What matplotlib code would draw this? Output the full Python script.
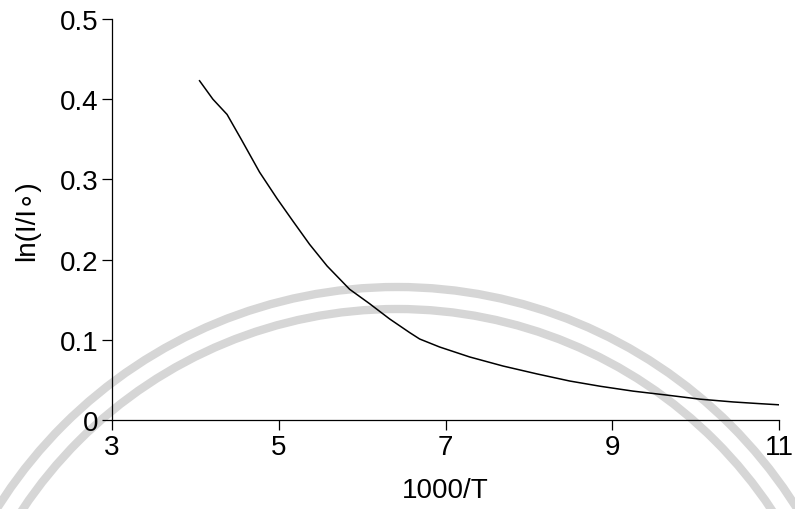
import matplotlib
matplotlib.use("Agg")
import matplotlib.pyplot as plt
from matplotlib.patches import Arc

# Measured curve: ln(I/I0) against 1000/T
inv_temp = [4.05, 4.21, 4.38, 4.55, 4.77, 4.98, 5.17, 5.37, 5.58, 5.85,
            6.09, 6.33, 6.57, 6.69, 6.93, 7.29, 7.69, 8.10, 8.49, 8.86,
            9.25, 9.66, 10.05, 10.45, 10.75, 11.04]
ln_ratio = [0.423, 0.400, 0.381, 0.350, 0.309, 0.276, 0.248, 0.219, 0.192,
            0.163, 0.145, 0.126, 0.109, 0.101, 0.091, 0.0786, 0.0673, 0.0574,
            0.0486, 0.042, 0.036, 0.031, 0.026, 0.0225, 0.0205, 0.0187]

x_ticks = [3, 5, 7, 9, 11]
y_ticks = [0, 0.1, 0.2, 0.3, 0.4, 0.5]
y_tick_labels = ["0", "0.1", "0.2", "0.3", "0.4", "0.5"]

plt.rcParams["font.family"] = ["Liberation Sans", "DejaVu Sans"]

W, H = 795, 510
fig = plt.figure(figsize=(W / 100, H / 100), dpi=100)

# faint seal in the page background
seal_color = "#d6d6d6"
for r in (472, 450):
    fig.add_artist(Arc((397 / W, 1 - 760 / H), 2 * r / W, 2 * r / H,
                       theta1=0, theta2=180, transform=fig.transFigure,
                       color=seal_color, lw=6, zorder=0))

ax = fig.add_axes([112 / W, 1 - 421 / H, (779 - 112) / W, (421 - 20) / H])
ax.patch.set_alpha(0)

ax.plot(inv_temp, ln_ratio, color="black", lw=1.1)

ax.set_xlim(3, 11)
ax.set_ylim(0, 0.5)
ax.set_xticks(x_ticks)
ax.set_xticklabels([str(t) for t in x_ticks])
ax.set_yticks(y_ticks)
ax.set_yticklabels(y_tick_labels)

for side in ("top", "right"):
    ax.spines[side].set_visible(False)
for side in ("left", "bottom"):
    ax.spines[side].set_linewidth(0.9)

ax.tick_params(direction="out", length=7, width=0.9, labelsize=20,
               colors="black", pad=3)

ax.set_xlabel("1000/T", fontsize=20, labelpad=12)
ax.set_ylabel("ln(I/I\u2218)", fontsize=20, labelpad=14)

fig.savefig("out.png", dpi=100)
